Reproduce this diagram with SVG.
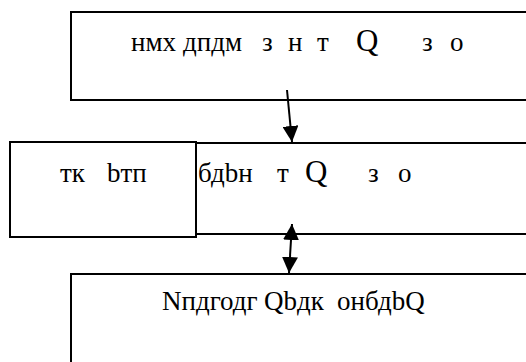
<svg xmlns="http://www.w3.org/2000/svg" width="526" height="362" viewBox="0 0 526 362">
<defs>
<marker id="ah" viewBox="0 0 16 16" refX="16" refY="8" markerWidth="16" markerHeight="16" markerUnits="userSpaceOnUse" orient="auto-start-reverse">
<path d="M0,0 L16,8 L0,16 z" fill="#000"/>
</marker>
</defs>
<rect width="526" height="362" fill="#fff"/>
<g id="node1">
<rect x="71" y="12" width="470" height="88" fill="#fff" stroke="#000" stroke-width="2"/>
<text style="font-family:'Liberation Serif',serif;font-size:27px" y="51"><tspan x="131">нмх</tspan><tspan x="183">дпдм</tspan><tspan x="262">з</tspan><tspan x="288">н</tspan><tspan x="317">т</tspan><tspan x="356" font-size="31">Q</tspan><tspan x="422">з</tspan><tspan x="450">о</tspan></text>
</g>
<g id="node2">
<rect x="150" y="143" width="390" height="91" fill="#fff" stroke="#000" stroke-width="2"/>
<text style="font-family:'Liberation Serif',serif;font-size:27px" y="182"><tspan x="198">бдbн</tspan><tspan x="277">т</tspan><tspan x="305" font-size="31">Q</tspan><tspan x="368">з</tspan><tspan x="398">о</tspan></text>
</g>
<g id="node3">
<rect x="10" y="142" width="186" height="95" fill="#fff" stroke="#000" stroke-width="2"/>
<text style="font-family:'Liberation Serif',serif;font-size:27px" y="182"><tspan x="60">тк</tspan><tspan x="107">bтп</tspan></text>
</g>
<g id="node4">
<rect x="71" y="274" width="470" height="100" fill="#fff" stroke="#000" stroke-width="2"/>
<text style="font-family:'Liberation Serif',serif;font-size:27px" y="310"><tspan x="162">Nпдгодг</tspan><tspan x="264">Qbдк</tspan><tspan x="337">онбдbQ</tspan></text>
</g>
<g id="connectors" stroke="#000" stroke-width="2" fill="none">
<line x1="287" y1="90" x2="292" y2="142" marker-end="url(#ah)"/>
<line x1="292" y1="224" x2="289" y2="273" marker-start="url(#ah)" marker-end="url(#ah)"/>
</g>
</svg>
